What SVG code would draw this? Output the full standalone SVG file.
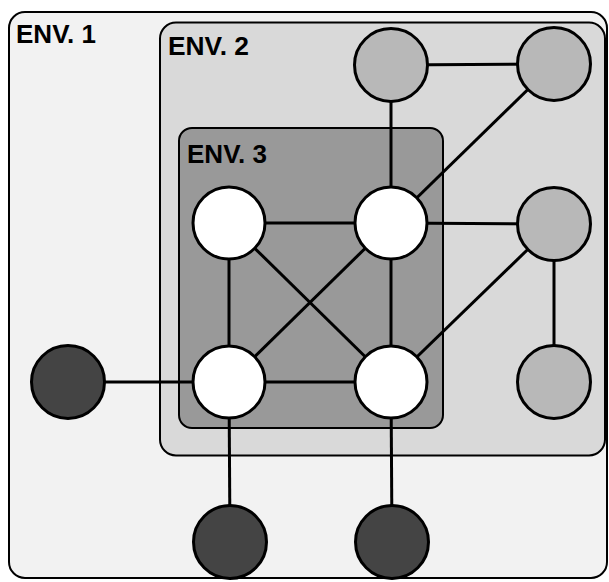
<svg xmlns="http://www.w3.org/2000/svg" width="609" height="582" viewBox="0 0 609 582">
<style>
.env{stroke:#000;stroke-width:2}
.lbl{font-family:"Liberation Sans",Arial,sans-serif;font-weight:bold;font-size:25px;fill:#000}
.n{stroke:#000;stroke-width:3}
.w{fill:#fff}.g{fill:#b8b8b8}.d{fill:#444}
.e line{stroke:#000;stroke-width:3}
</style>
<rect width="609" height="582" fill="#fff"/>
<g id="env1"><rect class="env" x="9" y="12" width="598" height="566" rx="16" fill="#f2f2f2"/><text class="lbl" x="16" y="43" textLength="80" lengthAdjust="spacingAndGlyphs">ENV. 1</text></g>
<g id="env2"><rect class="env" x="160" y="22.5" width="445" height="433" rx="16" fill="#d9d9d9"/><text class="lbl" x="168" y="55" textLength="81" lengthAdjust="spacingAndGlyphs">ENV. 2</text></g>
<g id="env3"><rect class="env" x="179" y="128" width="264" height="300" rx="13" fill="#999"/><text class="lbl" x="187" y="163" textLength="80" lengthAdjust="spacingAndGlyphs">ENV. 3</text></g>
<g id="connectors" class="e">
<line x1="391" y1="65" x2="554" y2="64"/>
<line x1="391" y1="65" x2="391" y2="223"/>
<line x1="554" y1="64" x2="391" y2="223"/>
<line x1="229" y1="223" x2="391" y2="223"/>
<line x1="229" y1="223" x2="229" y2="382"/>
<line x1="229" y1="223" x2="391" y2="382"/>
<line x1="391" y1="223" x2="229" y2="382"/>
<line x1="391" y1="223" x2="391" y2="382"/>
<line x1="229" y1="382" x2="391" y2="382"/>
<line x1="391" y1="223" x2="554" y2="224"/>
<line x1="554" y1="224" x2="554" y2="382"/>
<line x1="554" y1="224" x2="391" y2="382"/>
<line x1="68" y1="382" x2="229" y2="382"/>
<line x1="229" y1="382" x2="230" y2="542"/>
<line x1="391" y1="382" x2="392" y2="542"/>
</g>
<g id="g1"><circle class="n g" cx="391" cy="65" r="36.5"/></g>
<g id="g2"><circle class="n g" cx="554" cy="64" r="36.5"/></g>
<g id="g3"><circle class="n g" cx="554" cy="224" r="36.5"/></g>
<g id="g4"><circle class="n g" cx="554" cy="382" r="36.5"/></g>
<g id="w1"><circle class="n w" cx="229" cy="223" r="36"/></g>
<g id="w2"><circle class="n w" cx="391" cy="223" r="36"/></g>
<g id="w3"><circle class="n w" cx="229" cy="382" r="36"/></g>
<g id="w4"><circle class="n w" cx="391" cy="382" r="36"/></g>
<g id="d1"><circle class="n d" cx="68" cy="382" r="36.5"/></g>
<g id="d2"><circle class="n d" cx="230" cy="542" r="36.5"/></g>
<g id="d3"><circle class="n d" cx="392" cy="542" r="36.5"/></g>
</svg>
